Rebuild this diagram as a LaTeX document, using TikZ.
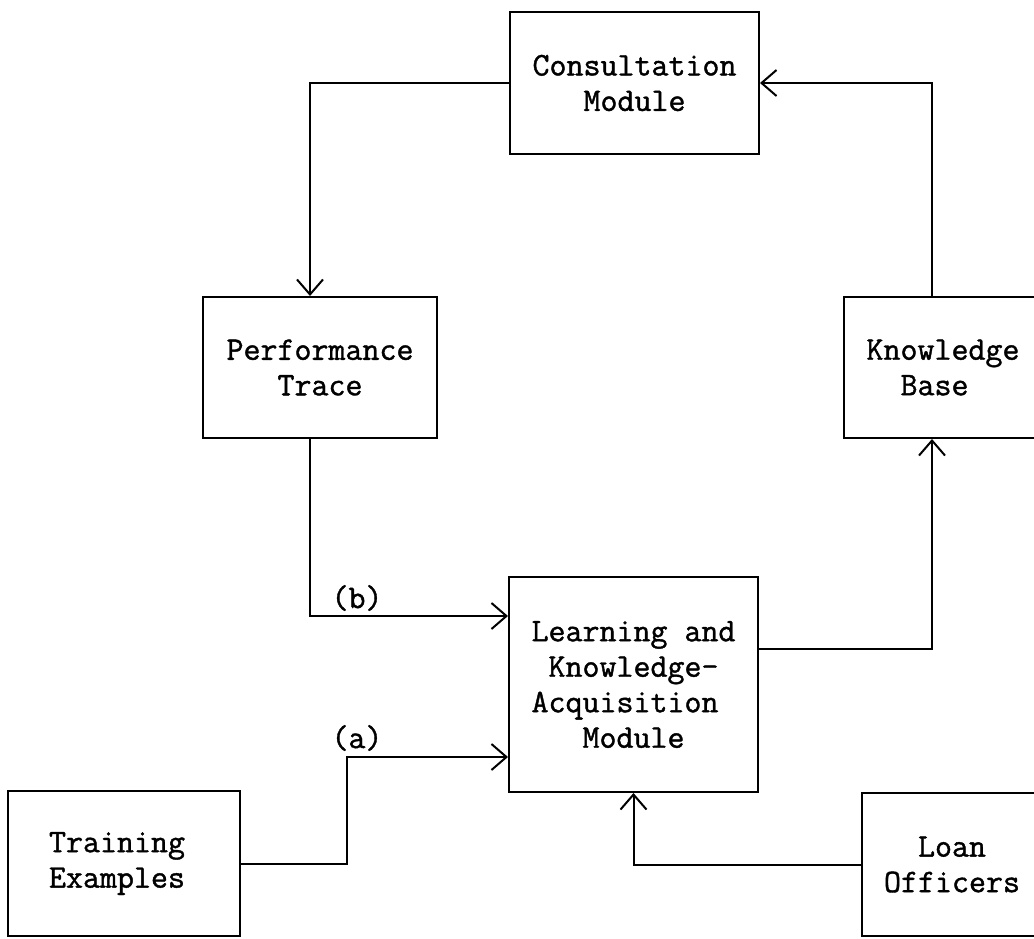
\documentclass[tikz,border=0pt]{standalone}
\usepackage{fontspec}
\newfontfamily\tw{Latin Modern Mono}[FakeBold=1.2]
\usetikzlibrary{arrows.meta}
\begin{document}
\begin{tikzpicture}[x=1pt,y=-1pt,
  box/.style={draw, line width=2pt, rectangle, inner sep=0pt, align=center,
    font=\tw\fontsize{33}{35.5}\selectfont},
  lbl/.style={inner sep=0pt, font=\tw\fontsize{33}{35.5}\selectfont},
  arr/.style={line width=2pt, -{Straight Barb[length=15pt,width=26pt,line width=2pt]}}]
\useasboundingbox (0,0) rectangle (1034,938);
\fill[white] (0,0) rectangle (1034,938);
\node[box, minimum width=249pt, minimum height=142pt] (cons) at (634.5,83) {Consultation\\Module};
\node[box, minimum width=234pt, minimum height=141pt] (perf) at (320,367.5) {Performance\\Trace};
\node[box, minimum width=198pt, minimum height=141pt, align=left] (kb) at (943,367.5) {Knowledge\\\hphantom{xx}Base};
\node[box, minimum width=249pt, minimum height=215pt, align=left] (learn) at (633.5,684.5) {Learning and\\\hphantom{x}Knowledge-\\Acquisition\\\hphantom{xxx}Module};
\node[box, minimum width=232pt, minimum height=145pt] (train) at (124,863.5) {Training\hspace*{14pt}\\Examples\hspace*{14pt}};
\node[box, minimum width=180pt, minimum height=143pt] (loan) at (952,864.5) {Loan\\Officers};
\node[lbl] (lb) at (357,598) {(b)};
\node[lbl] (la) at (357,738) {(a)};
\coordinate (abend) at (347,757);
\draw[arr] (cons.west) -| ([xshift=108pt]perf.north west);
\draw[arr] ([xshift=108pt]perf.south west) |- ([yshift=-40pt]learn.north west);
\draw[arr] (train.east) -| (abend) -- (abend -| learn.west);
\draw[arr] (loan.west) -| (learn.south);
\draw[arr] ([yshift=35.5pt]learn.east) -| ([xshift=89pt]kb.south west);
\draw[arr] ([xshift=89pt]kb.north west) |- (cons.east);
\end{tikzpicture}
\end{document}
